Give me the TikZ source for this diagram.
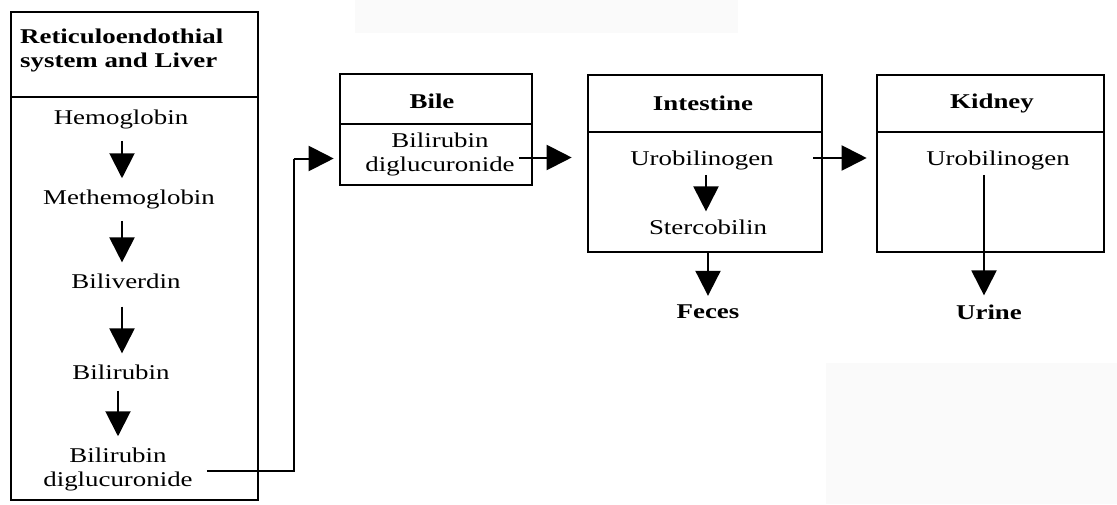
\documentclass[tikz,border=0pt]{standalone}
\usepackage{fontspec}
\setmainfont{Liberation Serif}[FakeStretch=1.28]
\usetikzlibrary{arrows.meta,calc}
\definecolor{haze}{RGB}{250,250,250}
\begin{document}
\begin{tikzpicture}[x=1pt,y=-1pt,
  box/.style={draw,line width=2.6pt,inner sep=0pt},
  txt/.style={inner sep=0pt,align=center,font=\fontsize{21}{24}\selectfont},
  hdr/.style={txt,font=\fontsize{21}{24}\selectfont\bfseries},
  arr/.style={line width=2pt,-{Triangle[length=25pt,width=25pt]}},
  link/.style={line width=2pt}]
\useasboundingbox (0,0) rectangle (1117,504);
% faint patches of the page
\fill[haze] (355,0) rectangle (738,33);
\fill[haze] (826,363) rectangle (1117,504);

% Reticuloendothial system and liver
\node[box,minimum width=247pt,minimum height=85pt]  (rlhead) at (134.5,54.5) {};
\node[box,minimum width=247pt,minimum height=403pt] (rlbody) at (134.5,298.5) {};
\node[hdr,align=left,anchor=west] (rltitle) at (20,50) {Reticuloendothial\\system and Liver};
\node[txt] (hemo)   at (121,119) {Hemoglobin};
\node[txt] (methemo) at (129,199) {Methemoglobin};
\node[txt] (biliv)  at (126,281) {Biliverdin};
\node[txt] (bilir)  at (121,372) {Bilirubin};
\node[txt] (bdg)    at (118,469) {Bilirubin\\diglucuronide};

% Bile
\node[box,minimum width=192pt,minimum height=50pt] (bilehead) at (436,99) {};
\node[box,minimum width=192pt,minimum height=61pt] (bilebody) at (436,154.5) {};
\node[hdr] (biletitle) at (432,101) {Bile};
\node[txt] (bilebdg) at (440,154) {Bilirubin\\diglucuronide};

% Intestine
\node[box,minimum width=234pt,minimum height=57pt]  (inthead) at (705,103.5) {};
\node[box,minimum width=234pt,minimum height=120pt] (intbody) at (705,192) {};
\node[hdr] (inttitle) at (703,103) {Intestine};
\node[txt] (urob1)  at (702,160) {Urobilinogen};
\node[txt] (sterco) at (708,227) {Stercobilin};
\node[hdr] (feces)  at (708,312) {Feces};

% Kidney
\node[box,minimum width=227pt,minimum height=57pt]  (kidhead) at (990.5,103.5) {};
\node[box,minimum width=227pt,minimum height=120pt] (kidbody) at (990.5,192) {};
\node[hdr] (kidtitle) at (992,103) {Kidney};
\node[txt] (urob2) at (998,160) {Urobilinogen};
\node[hdr] (urine) at (989,312) {Urine};

% steps inside the liver column
\coordinate (col) at (122,0);
\draw[arr] ($(hemo.south -| col)+(0,12)$)   -- ($(methemo.north -| col)+(0,-11)$);
\draw[arr] ($(methemo.south -| col)+(0,12)$) -- ($(biliv.north -| col)+(0,-11)$);
\draw[arr] ($(biliv.south -| col)+(0,18)$)  -- ($(bilir.north -| col)+(0,-11)$);
\draw[arr] ($(bilir.south)+(-3,11)$)        -- ($(bdg.north)+(0,-11)$);

% liver to bile
\draw[link] ($(bdg.east)+(14,2)$) -| ($(bilebody.west)+(-45,4)$) coordinate (bend);
\draw[arr] (bend) -- ($(bilebody.west)+(-5,4)$);

% bile to intestine
\draw[arr] ($(bilebody.east)+(-14,3)$) -- ($(bilebody.east -| intbody.west)+(-15,3)$);

% intestine
\draw[arr] ($(urob1.south)+(4,5)$) -- ($(sterco.north)+(-2,-8)$);
\draw[arr] (sterco.south |- intbody.south) -- ($(feces.north)+(0,-9)$);

% intestine to kidney
\draw[arr] ($(urob1.east -| inthead.east)+(-10,-2)$) -- ($(urob1.east -| kidhead.west)+(-9,-2)$);

% kidney to urine
\draw[arr] ($(urob2.south)+(-14,5)$) -- ($(urob2.south |- urine.north)+(-14,-9)$);
\end{tikzpicture}
\end{document}
